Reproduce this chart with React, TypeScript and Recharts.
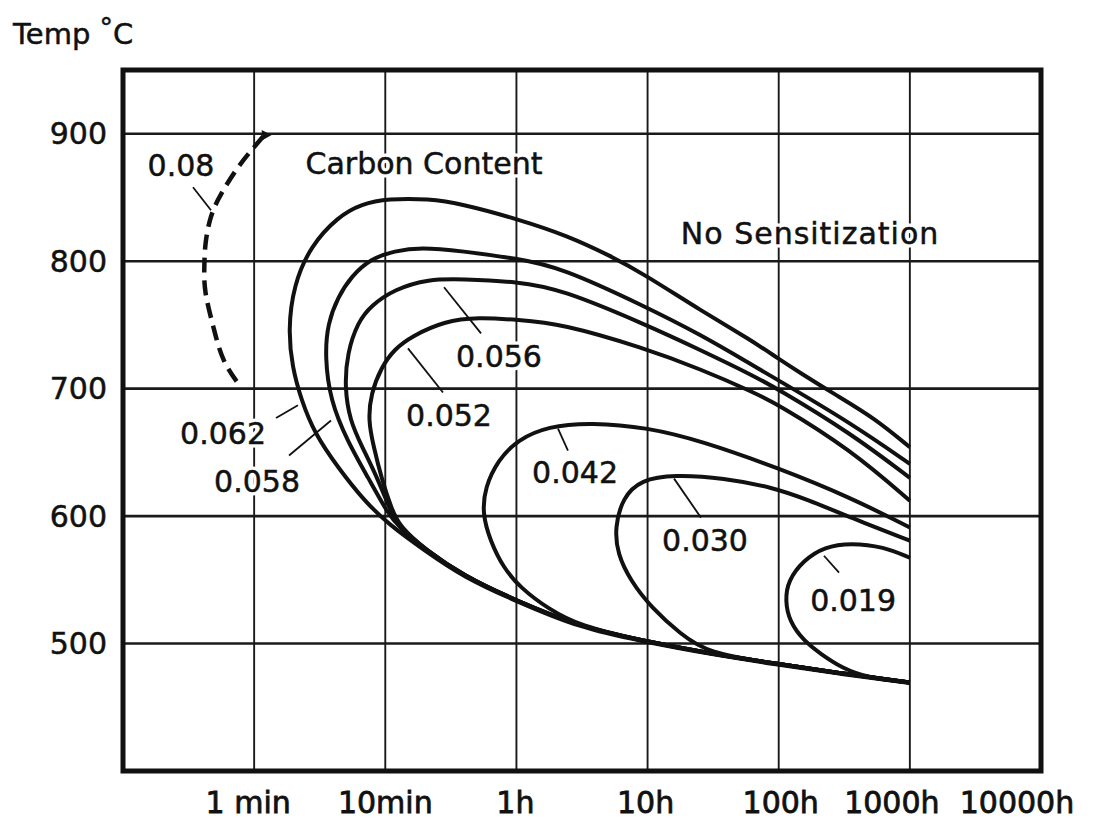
import React from "react";
import {
  ComposedChart,
  Line,
  Scatter,
  XAxis,
  YAxis,
  CartesianGrid,
  ReferenceArea,
} from "recharts";

type Pt = [number, number];

// x = position on the log time scale (1 = 1 min ... 7 = 10000h), y = temperature °C
const timeTicks = [1, 2, 3, 4, 5, 6, 7];
const timeLabels = ["1 min", "10min", "1h", "10h", "100h", "1000h", "10000h"];
const tempTicks = [500, 600, 700, 800, 900];

const c062: Pt[] = [
  [6.0, 654], [5.73, 677], [5.42, 696], [5.17, 712], [4.99, 724], [4.79, 738],
  [4.41, 761], [3.97, 790], [3.72, 804], [3.39, 820], [3.01, 833], [2.58, 845],
  [2.33, 849], [2.02, 849], [1.82, 845], [1.64, 835], [1.43, 812], [1.3, 781],
  [1.26, 746], [1.29, 717], [1.36, 691], [1.46, 665], [1.64, 638], [1.84, 612],
  [2.02, 594], [2.3, 573], [2.6, 552], [2.98, 534], [3.49, 512], [3.95, 502],
  [4.46, 492], [4.96, 484], [5.48, 476], [6.0, 469],
];
const c058: Pt[] = [
  [6.0, 641], [5.55, 673], [4.99, 707], [4.79, 719], [4.41, 742], [3.97, 765],
  [3.34, 795], [3.01, 802], [2.58, 808], [2.27, 811], [2.07, 808], [1.89, 802],
  [1.74, 788], [1.64, 772], [1.56, 751], [1.54, 725], [1.58, 691], [1.71, 659],
  [1.87, 630], [2.02, 602], [2.1, 592], [2.3, 574], [2.6, 553], [2.98, 534.5],
  [3.49, 513], [3.95, 502.5], [4.46, 492.5], [4.96, 484.5], [5.48, 476.5], [6.0, 469.5],
];
const c056: Pt[] = [
  [6.0, 630], [5.55, 665], [4.99, 700], [4.79, 711], [4.41, 730], [3.97, 751],
  [3.34, 778], [3.01, 784], [2.58, 786], [2.33, 786], [2.07, 778], [1.89, 765],
  [1.79, 752], [1.71, 728], [1.69, 701], [1.73, 675], [1.82, 655], [1.94, 630],
  [2.04, 604], [2.1, 592], [2.3, 574], [2.6, 553], [2.98, 534.5], [3.49, 513],
  [3.95, 502.5], [4.46, 492.5], [4.96, 484.5], [5.48, 476.5], [6.0, 469.5],
];
const c052: Pt[] = [
  [6.0, 612], [5.55, 652], [4.99, 688], [4.79, 698], [4.41, 715], [3.97, 732],
  [3.34, 751], [3.01, 754], [2.71, 756], [2.45, 753], [2.2, 741], [2.07, 731],
  [1.97, 717], [1.89, 696], [1.87, 675], [1.91, 655], [1.97, 630], [2.05, 605],
  [2.11, 592], [2.3, 574], [2.6, 553], [2.98, 534.5], [3.49, 513], [3.95, 502.5],
  [4.46, 492.5], [4.96, 484.5], [5.48, 476.5], [6.0, 469.5],
];
const c042: Pt[] = [
  [6.0, 591], [5.55, 614.5], [4.99, 638], [4.41, 659], [4.0, 669.5], [3.57, 673.5],
  [3.24, 670.5], [3.01, 660], [2.86, 644], [2.76, 622.4], [2.74, 602], [2.8, 580.7],
  [2.9, 559.5], [3.03, 543.8], [3.24, 527.3], [3.49, 513.5], [3.95, 502.5], [4.46, 492.5],
  [4.96, 484.5], [5.48, 476.5], [6.0, 469.5],
];
const c030: Pt[] = [
  [6.0, 580.7], [5.55, 598.8], [5.22, 612.9], [4.96, 622.4], [4.58, 630], [4.2, 632.5],
  [3.95, 628.5], [3.81, 614.5], [3.75, 590.9], [3.77, 570.5], [3.87, 549.3], [4.03, 528.1],
  [4.25, 507.6], [4.46, 492.5], [4.96, 484.5], [5.48, 476.5], [6.0, 469.5],
];
const c019: Pt[] = [
  [6.0, 567.3], [5.8, 576], [5.55, 579], [5.35, 576], [5.19, 565.5], [5.07, 549.3],
  [5.05, 533.6], [5.08, 517.8], [5.19, 502.1], [5.32, 491.9], [5.48, 480.9], [5.68, 473],
  [6.0, 469.5],
];
const c008: Pt[] = [
  [1.07, 898], [1.0, 889.5], [0.88, 874], [0.75, 853], [0.67, 834.5], [0.63, 814],
  [0.62, 795], [0.63, 775], [0.69, 748], [0.77, 722], [0.9, 701],
];

const curves = [c062, c058, c056, c052, c042, c030, c019];

// short leader strokes from each label to its curve
const leaders: Pt[][] = [
  [[0.534, 858], [0.671, 840]],
  [[1.167, 677], [1.334, 687]],
  [[1.266, 647.5], [1.586, 675]],
  [[2.448, 779.5], [2.73, 743.4]],
  [[2.173, 731.6], [2.44, 697]],
  [[3.317, 668.7], [3.393, 651.4]],
  [[4.202, 629.4], [4.407, 598.8]],
  [[5.345, 568.9], [5.46, 555.6]],
];

const notes = [
  { x: 0.442, y: 875.4, text: "0.08" },
  { x: 2.295, y: 876.9, text: "Carbon Content" },
  { x: 5.239, y: 821.9, text: "No Sensitization" },
  { x: 2.867, y: 725.3, text: "0.056" },
  { x: 2.486, y: 678.9, text: "0.052" },
  { x: 0.763, y: 664.8, text: "0.062" },
  { x: 1.022, y: 627.1, text: "0.058" },
  { x: 3.447, y: 634.1, text: "0.042" },
  { x: 4.438, y: 580.7, text: "0.030" },
  { x: 5.567, y: 533.6, text: "0.019" },
];

const arrowTip = [{ x: 1.08, y: 899 }];

const toPts = (a: Pt[]) => a.map(([x, y]) => ({ x, y }));

const FONT = "DejaVu Sans";
const INK = "#111";
const labelNudge = [-6, 0, -1, -2, 2, -18, -24];

const TimeTick = ({ x, y, payload }: any) => {
  const i = timeTicks.indexOf(payload.value);
  return (
    <text
      x={x + (labelNudge[i] ?? 0)}
      y={y + 31}
      textAnchor="middle"
      dominantBaseline="central"
      fontSize={30}
      fontFamily={FONT}
      fill={INK}
      stroke={INK}
      strokeWidth={0.8}
    >
      {timeLabels[i]}
    </text>
  );
};

const TempTick = ({ x, y, payload }: any) => (
  <text
    x={x - 16}
    y={y}
    textAnchor="end"
    dominantBaseline="central"
    fontSize={30}
    fontFamily={FONT}
    fill={INK}
    stroke={INK}
    strokeWidth={0.5}
  >
    {payload.value}
  </text>
);

const NoteLabel = (props: any) => {
  const { cx, cy, payload } = props;
  const common = {
    x: cx,
    y: cy,
    textAnchor: "middle" as const,
    dominantBaseline: "central" as const,
    fontSize: 30,
    fontFamily: FONT,
    letterSpacing: payload.text === "No Sensitization" ? 1 : 0,
  };
  return (
    <g>
      <text {...common} fill="#fff" stroke="#fff" strokeWidth={7}>
        {payload.text}
      </text>
      <text {...common} fill={INK} stroke={INK} strokeWidth={0.5}>
        {payload.text}
      </text>
    </g>
  );
};

const ArrowHead = ({ cx, cy }: any) => (
  <polygon
    points={`${cx + 7},${cy} ${cx - 3},${cy - 5} ${cx - 2},${cy + 5}`}
    fill={INK}
  />
);

export default function App() {
  return (
    <div style={{ position: "absolute", left: 0, top: 0, width: 1096, height: 819, background: "#fff" }}>
      <svg width={300} height={60} style={{ position: "absolute", left: 0, top: 0 }}>
        <text x={13} y={44} fontSize={29} fontFamily={FONT} fill={INK} stroke={INK} strokeWidth={0.5}>
          Temp <tspan dy={-7} fontSize={27}>°</tspan><tspan dy={7}>C</tspan>
        </text>
      </svg>
      <ComposedChart
        width={1096}
        height={819}
        margin={{ top: 70, right: 55, bottom: 0, left: 0 }}
      >
        <CartesianGrid vertical={false} stroke="#1a1a1a" strokeWidth={2.6} />
        <CartesianGrid horizontal={false} stroke="#1a1a1a" strokeWidth={1.9} />
        <XAxis
          type="number"
          dataKey="x"
          domain={[0, 7]}
          ticks={timeTicks}
          interval={0}
          allowDataOverflow
          axisLine={false}
          tickLine={false}
          tickSize={0}
          tickMargin={0}
          height={48}
          tick={<TimeTick />}
        />
        <YAxis
          type="number"
          dataKey="y"
          domain={[400, 950]}
          ticks={tempTicks}
          interval={0}
          allowDataOverflow
          axisLine={false}
          tickLine={false}
          tickSize={0}
          tickMargin={0}
          width={123}
          tick={<TempTick />}
        />
        <Scatter data={notes} shape={<NoteLabel />} isAnimationActive={false} />
        {curves.map((c, i) => (
          <Line
            key={`c${i}`}
            data={toPts(c)}
            dataKey="y"
            type="basis"
            stroke={INK}
            strokeWidth={4}
            dot={false}
            activeDot={false}
            isAnimationActive={false}
          />
        ))}
        <Line
          data={toPts(c008)}
          dataKey="y"
          type="natural"
          stroke={INK}
          strokeWidth={4.5}
          strokeDasharray="15 8"
          dot={false}
          activeDot={false}
          isAnimationActive={false}
        />
        {leaders.map((l, i) => (
          <Line
            key={`l${i}`}
            data={toPts(l)}
            dataKey="y"
            type="linear"
            stroke={INK}
            strokeWidth={1.8}
            dot={false}
            activeDot={false}
            isAnimationActive={false}
          />
        ))}
        <Scatter data={arrowTip} shape={<ArrowHead />} isAnimationActive={false} />
        <ReferenceArea
          x1={0}
          x2={7}
          y1={400}
          y2={950}
          fill="none"
          stroke={INK}
          strokeWidth={5}
          ifOverflow="visible"
        />
      </ComposedChart>
    </div>
  );
}
